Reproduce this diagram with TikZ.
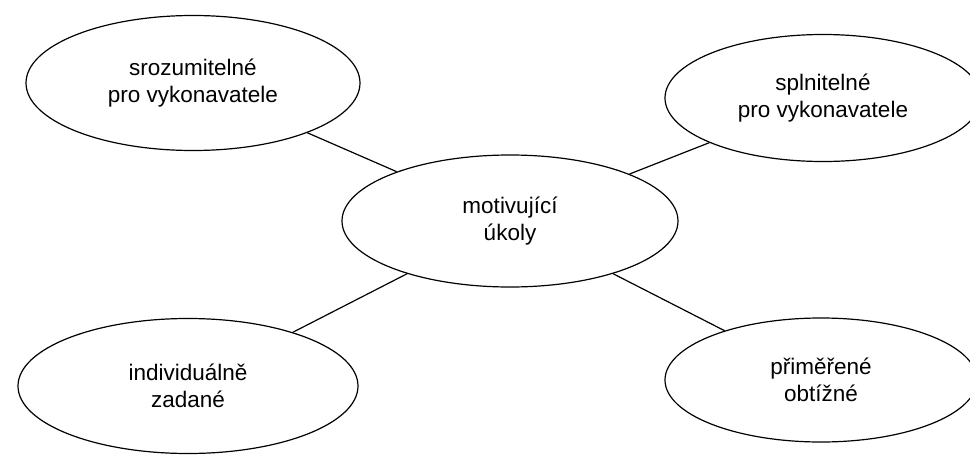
\documentclass[tikz,border=0pt]{standalone}
\usepackage{fontspec}
\setmainfont{Liberation Sans}
\usetikzlibrary{shapes.geometric}
\begin{document}
\begin{tikzpicture}[x=1pt,y=-1pt,
  bubble/.style={draw=black, line width=1.2pt, ellipse, inner sep=0pt,
    align=center, font=\fontsize{22.5}{26.5}\selectfont},
  link/.style={draw=black, line width=1.2pt}]
  \useasboundingbox[fill=white] (0,0) rectangle (970,461);
  % central idea
  \node[bubble, minimum width=336, minimum height=132] (c) at (510,221) {motivující\\úkoly};
  % surrounding properties
  \node[bubble, minimum width=334, minimum height=135] (tl) at (193,83) {srozumitelné\\pro vykonavatele};
  \node[bubble, minimum width=316, minimum height=127] (tr) at (823,98) {splnitelné\\pro vykonavatele};
  \node[bubble, minimum width=340, minimum height=135] (bl) at (188,386) {individuálně\\zadané};
  \node[bubble, minimum width=312, minimum height=124] (br) at (821,380) {přiměřené\\obtížné};
  % connectors
  \draw[link] (c) -- (tl);
  \draw[link] (c) -- (tr);
  \draw[link] (c) -- (bl);
  \draw[link] (c) -- (br);
\end{tikzpicture}
\end{document}
